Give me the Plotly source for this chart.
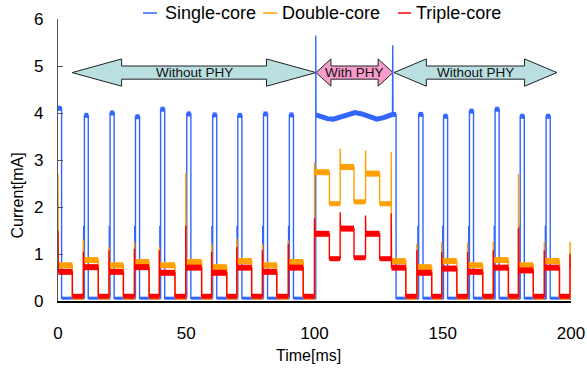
import plotly.graph_objects as go

# ---------------- data ----------------
x_ticks = [0, 50, 100, 150, 200]
y_ticks = [0, 1, 2, 3, 4, 5, 6]

# Double/Triple-core duty cycles: start / end of each "high" phase [ms]
cycle_start = [0.0, 9.9, 19.9, 29.8, 39.5, 49.8, 59.9, 69.7, 79.7, 89.8,
               100.0, 110.0, 119.9, 129.9, 139.9, 149.6, 159.7, 169.7, 179.5, 189.6, 199.6]
cycle_end = [5.6, 15.7, 25.5, 35.5, 45.6, 56.0, 65.8, 75.5, 85.3, 95.6,
             105.8, 115.4, 125.4, 135.6, 145.7, 155.5, 165.6, 175.6, 185.3, 195.5, 200.3]

triple_high = [0.62, 0.72, 0.62, 0.72, 0.60, 0.71, 0.60, 0.71, 0.62, 0.71,
               1.43, 1.54, 1.43, 0.71, 0.60, 0.69, 0.62, 0.71, 0.65, 0.71, 0.75]
triple_low = [0.10, 0.10, 0.10, 0.10, 0.10, 0.10, 0.10, 0.10, 0.10, 0.10,
              0.90, 0.92, 0.90, 0.10, 0.10, 0.10, 0.10, 0.10, 0.10, 0.10, 0.10]
triple_spike = [1.50, 1.05, 1.08, 1.11, 1.08, 1.60, 1.04, 1.15, 1.08, 1.22,
                1.76, 1.89, 1.82, 1.86, 1.08, 1.04, 1.04, 1.08, 1.55, 1.08, 1.00]

double_high = [0.76, 0.87, 0.76, 0.83, 0.76, 0.83, 0.72, 0.85, 0.76, 0.83,
               2.74, 2.85, 2.71, 0.85, 0.72, 0.85, 0.76, 0.87, 0.76, 0.85, 0.90]
double_low = [0.08, 0.08, 0.08, 0.08, 0.08, 0.08, 0.08, 0.08, 0.08, 0.08,
              2.07, 2.11, 2.07, 0.08, 0.08, 0.08, 0.08, 0.08, 0.08, 0.08, 0.08]
double_spike = [2.70, 1.31, 1.15, 1.26, 1.15, 2.72, 1.22, 1.33, 1.22, 1.29,
                2.95, 3.24, 3.20, 3.17, 1.22, 1.26, 1.24, 1.26, 2.70, 1.26, 1.26]

# Single-core pulses
single_rise = [0.0, 10.3, 20.3, 30.2, 40.0, 50.2, 60.3, 70.1, 80.1, 90.2,
               140.6, 150.3, 160.4, 170.4, 180.2, 190.3]
single_fall = [1.4, 11.8, 21.9, 31.8, 41.6, 51.8, 61.9, 71.7, 81.7, 91.8,
               142.3, 151.9, 162.0, 172.0, 181.8, 191.9]
single_peak = [4.10, 3.95, 4.00, 3.92, 4.08, 3.98, 3.96, 3.95, 3.98, 3.96,
               3.97, 3.93, 4.04, 4.08, 3.93, 3.93]
single_prestep = 1.6
single_base = 0.06
# Single-core during the "With PHY" period
phy_t = [100.6, 103.0, 105.0, 107.4, 110.0, 112.5, 115.8, 118.5, 121.5, 124.3, 127.0, 129.4, 130.4]
phy_v = [3.96, 3.92, 3.88, 3.87, 3.91, 3.97, 4.01, 3.98, 3.91, 3.87, 3.90, 3.97, 3.97]
phy_spike_t = [100.5, 130.5]
phy_spike_v = [5.65, 5.44]
phy_off_t = 131.8
t_last = 200.3

# Region arrows: (start, end, head length, label, fill)
arrow_start = [5.5, 100.6, 131.0]
arrow_end = [100.6, 130.6, 194.5]
arrow_head = [19.3, 5.8, 12.6]
arrow_label = ["Without PHY", "With PHY", "Without PHY"]
arrow_fill = ["#b9dfe1", "#f79ccb", "#b9dfe1"]
arrow_y = 4.86

series_names = ["Single-core", "Double-core", "Triple-core"]
series_colors = ["#3366ff", "#ffa000", "#ff0000"]

FONT = "Liberation Sans, Arial, sans-serif"


def duty_series(starts, ends, high, low, spike):
    xs, ys, hx, hy, lx, ly = [], [], [], [], [], []
    n = len(starts)
    for i in range(n):
        s, e = starts[i], ends[i]
        if i > 0:
            xs.append(s); ys.append(low[i - 1])
        xs += [s, s + 0.12, e]
        ys += [spike[i], high[i], high[i]]
        hx += [s + 0.12, e, None]; hy += [high[i], high[i], None]
        if i < n - 1:
            xs.append(e); ys.append(low[i])
            lx += [e, starts[i + 1], None]; ly += [low[i], low[i], None]
    return xs, ys, hx, hy, lx, ly


def single_series():
    xs, ys = [], []
    bx, by = [], []      # baseline band
    cx, cy = [], []      # cap band
    phy_done = False
    last_fall = None
    for r, f, p in zip(single_rise, single_fall, single_peak):
        if not phy_done and r > phy_spike_t[0]:
            xs += [phy_spike_t[0], phy_spike_t[0]]
            ys += [single_base, phy_spike_v[0]]
            bx += [last_fall, phy_spike_t[0], None]; by += [single_base, single_base, None]
            xs += phy_t; ys += phy_v
            cx += phy_t + [None]; cy += phy_v + [None]
            xs += [phy_spike_t[1], phy_spike_t[1] + 0.1, phy_off_t, phy_off_t]
            ys += [phy_spike_v[1], phy_v[-1], phy_v[-1], single_base]
            cx += [phy_spike_t[1] + 0.1, phy_off_t, None]; cy += [phy_v[-1], phy_v[-1], None]
            last_fall = phy_off_t
            phy_done = True
        if r > 0:
            xs += [r - 0.3, r - 0.3, r - 0.2, r, r]
            ys += [single_base, single_prestep, single_base, single_base, p]
            bx += [last_fall, r, None]; by += [single_base, single_base, None]
        else:
            xs.append(r); ys.append(p)
        xs += [f, f]; ys += [p, single_base]
        cx += [r, f, None]; cy += [p, p, None]
        last_fall = f
    xs.append(t_last); ys.append(single_base)
    bx += [last_fall, t_last, None]; by += [single_base, single_base, None]
    return xs, ys, bx, by, cx, cy


fig = go.Figure()

sx, sy, sbx, sby, scx, scy = single_series()
fig.add_trace(go.Scatter(x=sx, y=sy, mode="lines", name=series_names[0],
                         line=dict(color=series_colors[0], width=1.4), showlegend=False))
fig.add_trace(go.Scatter(x=sbx, y=sby, mode="lines", name=series_names[0],
                         line=dict(color=series_colors[0], width=3), showlegend=False))
fig.add_trace(go.Scatter(x=scx, y=scy, mode="lines", name=series_names[0],
                         line=dict(color=series_colors[0], width=5), showlegend=False))

for name, col, hi, lo, sp in [
        (series_names[1], series_colors[1], double_high, double_low, double_spike),
        (series_names[2], series_colors[2], triple_high, triple_low, triple_spike)]:
    xs, ys, hx, hy, lx, ly = duty_series(cycle_start, cycle_end, hi, lo, sp)
    fig.add_trace(go.Scatter(x=xs, y=ys, mode="lines", name=name,
                             line=dict(color=col, width=1.4), showlegend=False))
    fig.add_trace(go.Scatter(x=hx, y=hy, mode="lines", name=name,
                             line=dict(color=col, width=6), showlegend=False))
    fig.add_trace(go.Scatter(x=lx, y=ly, mode="lines", name=name,
                             line=dict(color=col, width=5), showlegend=False))

# region arrows
shapes = []
annotations = []
hh, sh = 0.29, 0.14
for x0, x1, hl, lab, fc in zip(arrow_start, arrow_end, arrow_head, arrow_label, arrow_fill):
    yc = arrow_y
    pts = [(x0, yc), (x0 + hl, yc + hh), (x0 + hl, yc + sh), (x1 - hl, yc + sh),
           (x1 - hl, yc + hh), (x1, yc), (x1 - hl, yc - hh), (x1 - hl, yc - sh),
           (x0 + hl, yc - sh), (x0 + hl, yc - hh)]
    path = "M " + " L ".join(f"{px},{py}" for px, py in pts) + " Z"
    shapes.append(dict(type="path", path=path, xref="x", yref="y", fillcolor=fc,
                       line=dict(color="#222222", width=1), layer="below"))
    annotations.append(dict(x=(x0 + x1) / 2, y=yc, xref="x", yref="y", text=lab,
                            showarrow=False, font=dict(family=FONT, size=13.5, color="#111111"),
                            xanchor="center", yanchor="middle"))

# custom legend (paper coords)
W, L = 513.0, 58.0
def px2paper(px):
    return (px - L) / W
leg_line = [(143, 157), (263, 277), (398, 411)]
leg_text = [163, 280, 414]
leg_y = (301 - 13) / 282.0
for (a, b), tx, nm, col in zip(leg_line, leg_text, series_names, series_colors):
    shapes.append(dict(type="line", xref="paper", yref="paper", x0=px2paper(a), x1=px2paper(b),
                       y0=leg_y, y1=leg_y, line=dict(color=col, width=1.5)))
    annotations.append(dict(x=px2paper(tx), y=leg_y, xref="paper", yref="paper", text=nm,
                            showarrow=False, xanchor="left", yanchor="middle",
                            font=dict(family=FONT, size=18, color="#000000")))

# axis titles
annotations.append(dict(x=px2paper(308), y=(301 - 355) / 282.0, xref="paper", yref="paper",
                        text="Time[ms]", showarrow=False, xanchor="center", yanchor="middle",
                        font=dict(family=FONT, size=16, color="#000000")))
annotations.append(dict(x=px2paper(16.5), y=(301 - 196) / 282.0, xref="paper", yref="paper",
                        text="Current[mA]", showarrow=False, textangle=-90,
                        xanchor="center", yanchor="middle",
                        font=dict(family=FONT, size=16, color="#000000")))

fig.update_layout(
    width=587, height=372,
    margin=dict(l=58, r=16, t=19, b=71, autoexpand=False),
    paper_bgcolor="white", plot_bgcolor="white",
    showlegend=False,
    shapes=shapes, annotations=annotations,
    xaxis=dict(range=[0, 200], tickvals=x_ticks, ticktext=[str(v) for v in x_ticks],
               showgrid=False, zeroline=False, showline=True, linecolor="#000000", linewidth=1.5,
               ticks="", ticklabelstandoff=16, automargin=False,
               tickfont=dict(family=FONT, size=17, color="#000000")),
    yaxis=dict(range=[0, 6], tickvals=y_ticks, ticktext=[str(v) for v in y_ticks],
               showgrid=False, zeroline=False, showline=True, linecolor="#555555", linewidth=1.2,
               ticks="inside", ticklen=5, tickcolor="#555555", ticklabelstandoff=10,
               automargin=False,
               tickfont=dict(family=FONT, size=17, color="#000000")),
)

# remove the default 8px page margin so the figure sits at the window's top-left corner
fig.write_html("out.html", config={"displayModeBar": False},
               post_script="document.body.style.margin='0';document.body.style.overflow='hidden';")
